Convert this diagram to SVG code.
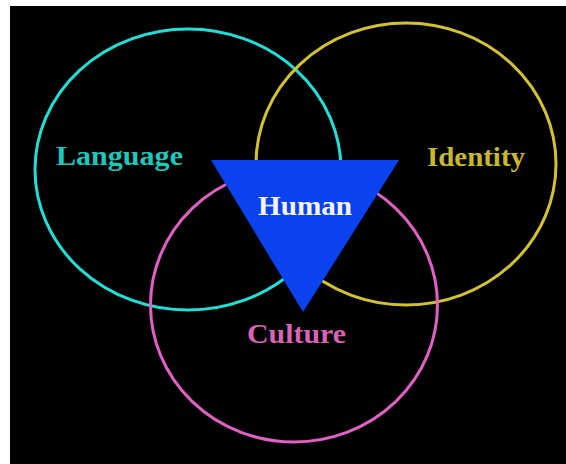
<svg xmlns="http://www.w3.org/2000/svg" width="566" height="464" viewBox="0 0 566 464">
  <style>
    .ring { fill: none; stroke-width: 3; }
    .lbl { font-family: "Liberation Serif", "Times New Roman", serif; font-weight: bold; font-size: 27px; }
  </style>
  <rect x="0" y="0" width="566" height="464" fill="#ffffff"/>
  <rect x="10" y="6" width="556" height="458" fill="#000000"/>
  <g id="connectors"></g>
  <g id="language">
    <ellipse class="ring" cx="188" cy="169.5" rx="153" ry="140.5" stroke="#1fe0d8"/>
  </g>
  <g id="identity">
    <ellipse class="ring" cx="406" cy="164" rx="150" ry="141" stroke="#d2c232"/>
  </g>
  <g id="culture">
    <ellipse class="ring" cx="294" cy="305" rx="143.5" ry="137" stroke="#e060c4"/>
  </g>
  <g id="human">
    <polygon points="211,160 399,160 303,312" fill="#0a42f0"/>
    <text class="lbl" x="258" y="215" textLength="94" lengthAdjust="spacingAndGlyphs" fill="#f4f4ff">Human</text>
  </g>
  <g id="labels">
    <text class="lbl" x="56" y="165" textLength="127" lengthAdjust="spacingAndGlyphs" fill="#1cc8be">Language</text>
    <text class="lbl" x="427" y="166" textLength="98" lengthAdjust="spacingAndGlyphs" fill="#c8b82e">Identity</text>
    <text class="lbl" x="247" y="343" textLength="99" lengthAdjust="spacingAndGlyphs" fill="#d862b4">Culture</text>
  </g>
</svg>
